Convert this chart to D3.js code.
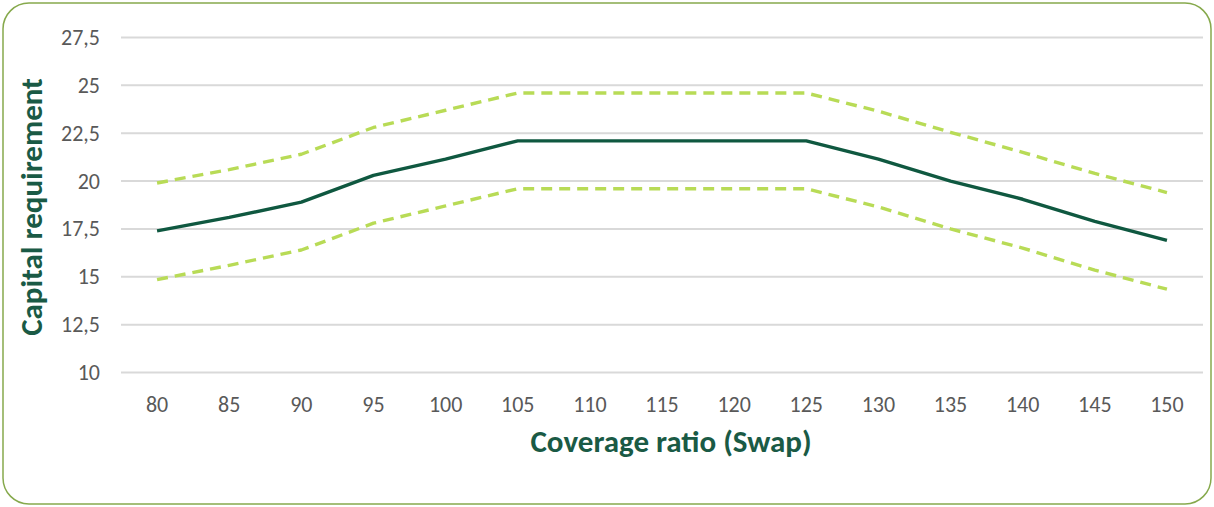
<!DOCTYPE html>
<html><head><meta charset="utf-8">
<script src="https://cdn.jsdelivr.net/npm/d3@7"></script>
<style>html,body{margin:0;padding:0;background:#fff;}svg{display:block;}</style>
</head><body>
<svg id="chart" width="1214" height="507"></svg>
<script>
const categories = [80,85,90,95,100,105,110,115,120,125,130,135,140,145,150];
const central = [17.4,18.1,18.9,20.3,21.15,22.1,22.1,22.1,22.1,22.1,21.15,20.0,19.05,17.9,16.9];
const upper =   [19.9,20.6,21.4,22.8,23.7,24.6,24.6,24.6,24.6,24.6,23.65,22.55,21.5,20.4,19.4];
const lower =   [14.85,15.6,16.4,17.8,18.7,19.6,19.6,19.6,19.6,19.6,18.65,17.5,16.5,15.35,14.35];
const yTicks = [10,12.5,15,17.5,20,22.5,25,27.5];
const xTitle = "Coverage ratio (Swap)";
const yTitle = "Capital requirement";

(function(){
const svg = d3.select("#chart");
svg.append("rect").attr("x",3).attr("y",3).attr("width",1208).attr("height",501)
  .attr("rx",26).attr("ry",26).attr("fill","#fff").attr("stroke","#86a94c").attr("stroke-width",1.5);

const mLeft=121, mRight=1203, mTop=37.5, mBottom=372.5;
const x = d3.scaleBand().domain(categories).range([mLeft,mRight]);
const y = d3.scaleLinear().domain([10,27.5]).range([mBottom,mTop]);
const font = "Calibri, Carlito, 'Open Sans', sans-serif";

svg.append("g").selectAll("line").data(yTicks).join("line")
  .attr("x1",mLeft).attr("x2",mRight).attr("y1",d=>y(d)).attr("y2",d=>y(d))
  .attr("stroke","#d9d9d9").attr("stroke-width",2);

const fmt = d => String(d).replace(".",",");
const yAxis = svg.append("g").attr("transform",`translate(${mLeft-21},0)`)
  .call(d3.axisLeft(y).tickValues(yTicks).tickFormat(fmt).tickSize(0).tickPadding(0));
yAxis.select(".domain").remove();
yAxis.selectAll("text").attr("fill","#595959").style("font-size","22px").style("font-family",font);

const xAxis = svg.append("g").attr("transform",`translate(0,${mBottom})`)
  .call(d3.axisBottom(x).tickSize(0).tickPadding(0));
xAxis.select(".domain").remove();
xAxis.selectAll("text").attr("fill","#595959").style("font-size","22px").style("font-family",font)
  .attr("y",39.5).attr("dy",null);

const line = d3.line().x((d,i)=>x(categories[i])+x.bandwidth()/2).y(d=>y(d));
[upper,lower].forEach(s=>{
  svg.append("path").attr("d",line(s)).attr("fill","none").attr("stroke","#b8db56")
    .attr("stroke-width",3.4).attr("stroke-dasharray","11,7").attr("stroke-linejoin","round");
});
svg.append("path").attr("d",line(central)).attr("fill","none").attr("stroke","#0f5840")
  .attr("stroke-width",3.4).attr("stroke-linejoin","round");

svg.append("text").attr("x",671).attr("y",452).attr("text-anchor","middle")
  .attr("fill","#1a5a45").style("font-size","31px").style("font-weight","bold").style("font-family",font).text(xTitle);
svg.append("text").attr("transform","translate(42,207) rotate(-90)").attr("text-anchor","middle")
  .attr("fill","#1a5a45").style("font-size","31px").style("font-weight","bold").style("font-family",font).text(yTitle);
})();
</script>
</body></html>
